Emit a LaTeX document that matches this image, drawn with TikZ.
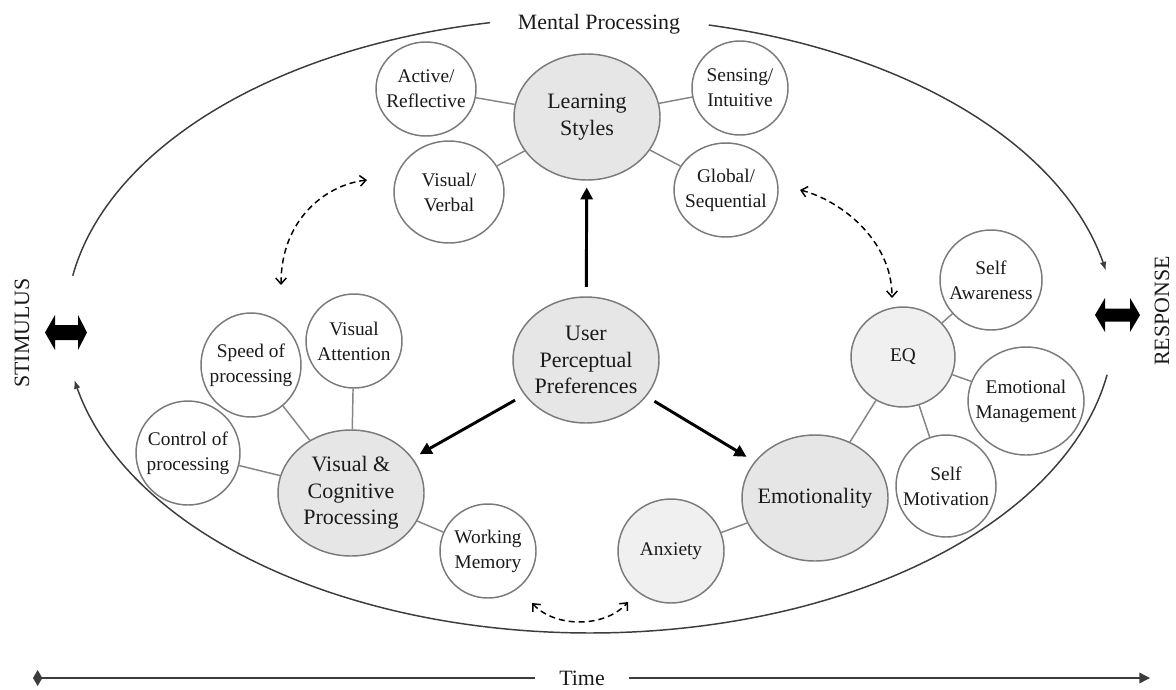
\documentclass[tikz,border=0pt]{standalone}
\usepackage{fontspec}
\setmainfont{Liberation Serif}
\usetikzlibrary{arrows.meta,shapes.geometric}

\definecolor{ringgray}{HTML}{7A7A7A}
\definecolor{hub}{HTML}{E6E6E6}
\definecolor{soft}{HTML}{F0F0F0}
\definecolor{txt}{HTML}{1A1A1A}
\definecolor{linkgray}{HTML}{858585}
\definecolor{framegray}{HTML}{3C3C3C}

\begin{document}
\begin{tikzpicture}[x=0.75pt,y=-0.75pt,
  % fixed-size bubbles: the negative inner sep keeps the text from widening them
  bub/.style 2 args={ellipse, draw=ringgray, line width=1.1pt, fill=white,
    minimum width=#1*1.5pt, minimum height=#2*1.5pt, inner sep=-12pt,
    align=center, text=txt, font=\fontsize{14.5}{18.7}\selectfont},
  big/.style={fill=hub, font=\fontsize{16.5}{19.8}\selectfont},
  pale/.style={fill=soft},
  link/.style={draw=linkgray, line width=1.1pt},
  frame/.style={draw=framegray, line width=1.1pt},
  frametip/.style={-{Latex[length=6.5pt,width=5pt]}},
  push/.style={line width=2.2pt, black, -{Triangle[length=9pt,width=9pt]}},
  dasharrow/.style={line width=1.1pt, black, dash pattern=on 4.5pt off 3pt,
    {Straight Barb[length=4.5pt,width=8pt]}-{Straight Barb[length=4.5pt,width=8pt]}},
  label/.style={text=txt, font=\fontsize{16.4}{19}\selectfont},
  timeline/.style={draw=framegray, line width=1.1pt}
]
\useasboundingbox (0,0) rectangle (1176,689);

% outer mental-processing loop
\draw[frame] plot[domain=101:170.8, samples=80] ({590+524*cos(\x)},{325-308*sin(\x)});
\draw[frame, frametip] plot[domain=76.9:10.2, samples=80] ({590+524*cos(\x)},{325-308*sin(\x)});
\draw[frame, frametip] plot[domain=-9.3:-169.7, samples=140] ({590+524*cos(\x)},{325-308*sin(\x)});

\node[label] (mp) at (599,24) {Mental Processing};

% learning styles cluster
\node[bub={73}{63}, big] (ls) at (587,117) {Learning\\Styles};
\node[bub={50}{47}] (ar) at (426,89) {Active/\\Reflective};
\node[bub={55}{51}] (vv) at (449,192) {Visual/\\Verbal};
\node[bub={48}{47}] (si) at (740,88) {Sensing/\\Intuitive};
\node[bub={52}{47}] (gs) at (726,190) {Global/\\Sequential};

% centre
\node[bub={73}{63}, big] (upp) at (586,360) {User\\Perceptual\\Preferences};

% visual and cognitive processing cluster
\node[bub={73}{63}, big] (vcp) at (351,493) {Visual \&\\Cognitive\\Processing};
\node[bub={48}{47}] (va) at (354,341) {Visual\\Attention};
\node[bub={50}{52}] (sp) at (251,365) {Speed of\\processing};
\node[bub={52}{52}] (cp) at (188,453) {Control of\\processing};
\node[bub={48}{47}] (wm) at (488,551) {Working\\Memory};

% emotionality cluster
\node[bub={73}{63}, big] (emo) at (815,498) {Emotionality};
\node[bub={53}{52}, pale] (anx) at (671,551) {Anxiety};
\node[bub={52}{50}, pale] (eq) at (903,357) {EQ};
\node[bub={51}{50}] (sa) at (991,280) {Self\\Awareness};
\node[bub={58}{54}] (em) at (1026,401) {Emotional\\Management};
\node[bub={50}{51}] (sm) at (946,486) {Self\\Motivation};

% spokes
\draw[link] (ls) -- (ar);
\draw[link] (ls) -- (vv);
\draw[link] (ls) -- (si);
\draw[link] (ls) -- (gs);
\draw[link] (vcp) -- (va);
\draw[link] (vcp) -- (sp);
\draw[link] (vcp) -- (cp);
\draw[link] (vcp) -- (wm);
\draw[link] (emo) -- (anx);
\draw[link] (emo) -- (eq);
\draw[link] (eq) -- (sa);
\draw[link] (eq) -- (em);
\draw[link] (eq) -- (sm);

% main influence arrows
\draw[push, shorten <=7pt, shorten >=5pt] (upp) -- (ls);
\draw[push, shorten <=8pt, shorten >=6pt] (upp) -- (vcp);
\draw[push, shorten <=7pt, shorten >=7pt] (upp) -- (emo);

% dashed interactions
\coordinate (dla) at (367,180);
\coordinate (dlb) at (281,285);
\draw[dasharrow] (dla) .. controls (325,185) and (281,220) .. (dlb);
\coordinate (dra) at (800,190);
\coordinate (drb) at (892,298);
\draw[dasharrow] (dra) .. controls (840,200) and (892,240) .. (drb);
\coordinate (dba) at (532,603);
\coordinate (dbb) at (628,602);
\draw[dasharrow] (dba) .. controls (555,628) and (605,628) .. (dbb);

% stimulus / response
\node[label, rotate=90] (stim) at (22,333) {STIMULUS};
\node[label, rotate=90] (resp) at (1162,311) {RESPONSE};
\fill[black] (45,332.5) -- (55,315) -- (55,325) -- (78,325) -- (78,315) -- (87,332.5)
  -- (78,350) -- (78,340) -- (55,340) -- (55,350) -- cycle;
\fill[black] (1095,315) -- (1105,298) -- (1105,308.5) -- (1130,308.5) -- (1130,298) -- (1140,315)
  -- (1130,332) -- (1130,321.5) -- (1105,321.5) -- (1105,332) -- cycle;

% time axis
\node[label, inner xsep=18pt, inner ysep=0pt] (time) at (582,678) {Time};
\coordinate (tl) at (33,678);
\coordinate (tr) at (1150,678);
\draw[timeline, {Kite[length=7pt,width=12pt,inset=3.5pt]}-] (tl) -- (time.west);
\draw[timeline, -{Triangle[length=8pt,width=8pt]}] (time.east) -- (tr);
\end{tikzpicture}
\end{document}
